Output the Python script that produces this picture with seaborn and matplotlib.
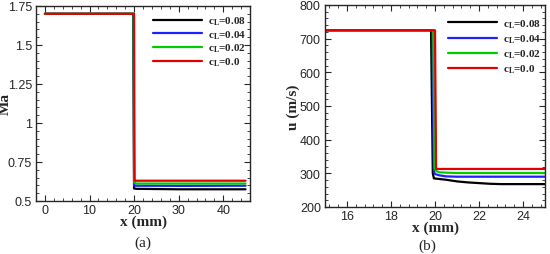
import pandas as pd
import seaborn as sns
import matplotlib.pyplot as plt
from matplotlib.ticker import AutoMinorLocator

# Series labels and colours
labels = ["$\\mathbf{c_L}$=0.08", "$\\mathbf{c_L}$=0.04", "$\\mathbf{c_L}$=0.02", "$\\mathbf{c_L}$=0.0"]
colors = ["#000000", "#2020ff", "#00cc00", "#e00000"]

# (a) Mach number vs x
ma_x = {
    0: [0, 19.8, 20.0, 20.5, 30, 45],
    1: [0, 19.9, 20.0, 20.5, 30, 45],
    2: [0, 19.9, 20.0, 20.5, 30, 45],
    3: [0, 20.0, 20.1, 20.5, 30, 45],
}
ma_y = {
    0: [1.70, 1.70, 0.58, 0.578, 0.575, 0.575],
    1: [1.70, 1.70, 0.60, 0.598, 0.597, 0.598],
    2: [1.70, 1.70, 0.62, 0.612, 0.612, 0.612],
    3: [1.70, 1.70, 0.63, 0.63, 0.63, 0.63],
}

# (b) velocity vs x
u_x = {
    0: [15, 19.82, 19.9, 19.95, 20.5, 21.0, 21.5, 22.0, 22.5, 23.0, 24.0, 25],
    1: [15, 19.88, 19.95, 20.0, 20.2, 20.5, 21.0, 21.5, 22.0, 23.0, 24.0, 25],
    2: [15, 19.92, 19.98, 20.05, 20.2, 20.5, 21.0, 22.0, 23.0, 24.0, 25],
    3: [15, 20.0, 20.05, 20.1, 21.0, 22.0, 23.0, 24.0, 25],
}
u_y = {
    0: [725, 725, 300, 285, 281, 276, 273, 271, 269, 268, 268, 268],
    1: [725, 725, 305, 298, 294, 291, 290, 290, 290, 290, 290, 290],
    2: [725, 725, 315, 307, 303, 302, 301, 301, 301, 301, 301],
    3: [725, 725, 313, 313, 313, 313, 313, 313, 313],
}


def to_frame(xs, ys):
    rows = []
    for i in range(len(labels)):
        for x, y in zip(xs[i], ys[i]):
            rows.append({"x": x, "y": y, "case": labels[i]})
    return pd.DataFrame(rows)


df_ma = to_frame(ma_x, ma_y)
df_u = to_frame(u_x, u_y)

sns.set_style("ticks")
plt.rcParams["font.family"] = ["Liberation Sans", "DejaVu Sans"]
plt.rcParams["mathtext.fontset"] = "custom"
plt.rcParams["mathtext.rm"] = "Liberation Serif"
plt.rcParams["mathtext.bf"] = "Liberation Serif:bold"

fig = plt.figure(figsize=(5.5, 2.55), dpi=100)
ax1 = fig.add_axes([36 / 550, 1 - 202 / 255, 214 / 550, 195 / 255])
ax2 = fig.add_axes([325 / 550, 1 - 208 / 255, 220 / 550, 202 / 255])

palette = dict(zip(labels, colors))
sns.lineplot(data=df_ma, x="x", y="y", hue="case", palette=palette, sort=False,
             estimator=None, lw=1.6, ax=ax1)
sns.lineplot(data=df_u, x="x", y="y", hue="case", palette=palette, sort=False,
             estimator=None, lw=1.6, ax=ax2)

lab_font = dict(family="Liberation Serif", weight="bold", fontsize=11)

ax1.set_xlim(-2, 46)
ax1.set_ylim(0.5, 1.75)
ax1.set_xticks([0, 10, 20, 30, 40])
ax1.set_yticks([0.5, 0.75, 1.0, 1.25, 1.5, 1.75])
ax1.set_yticklabels(["0.5", "0.75", "1", "1.25", "1.5", "1.75"])
ax1.set_xlabel("x (mm)", **lab_font)
ax1.set_ylabel("Ma", **lab_font)
ax1.yaxis.set_label_coords(-24 / 214, 0.5)
ax1.xaxis.set_label_coords(0.5, -14 / 195)

ax2.set_xlim(15, 25)
ax2.set_ylim(200, 800)
ax2.set_xticks([16, 18, 20, 22, 24])
ax2.set_yticks([200, 300, 400, 500, 600, 700, 800])
ax2.set_xlabel("x (mm)", **lab_font)
ax2.set_ylabel("u (m/s)", **lab_font)
ax2.yaxis.set_label_coords(-25 / 220, 0.5)
ax2.xaxis.set_label_coords(0.5, -14 / 202)

legend_anchor = {ax1: (0.547, 0.955), ax2: (0.559, 0.94)}
legend_space = {ax1: 0.1, ax2: 0.25}

for ax in (ax1, ax2):
    ax.xaxis.set_minor_locator(AutoMinorLocator(5))
    ax.yaxis.set_minor_locator(AutoMinorLocator(5))
    ax.tick_params(which="both", direction="in", top=True, right=True, labelsize=9)
    ax.tick_params(axis="x", pad=2)
    ax.tick_params(axis="y", pad=3)
    ax.tick_params(which="major", length=4, width=0.8)
    ax.tick_params(which="minor", length=2, width=0.6)
    for s in ax.spines.values():
        s.set_linewidth(1.0)
    ax.legend(loc="upper left", bbox_to_anchor=legend_anchor[ax], frameon=False,
              handlelength=4.4, handletextpad=0.55, labelspacing=legend_space[ax],
              borderpad=0, borderaxespad=0,
              prop={"family": "Liberation Serif", "weight": "bold", "size": 8})

fig.text(143 / 550, 1 - 243 / 255, "(a)", family="Liberation Serif", fontsize=11,
         ha="center", va="center")
fig.text(427 / 550, 1 - 246 / 255, "(b)", family="Liberation Serif", fontsize=11,
         ha="center", va="center")

fig.savefig("out.png", dpi=100)
